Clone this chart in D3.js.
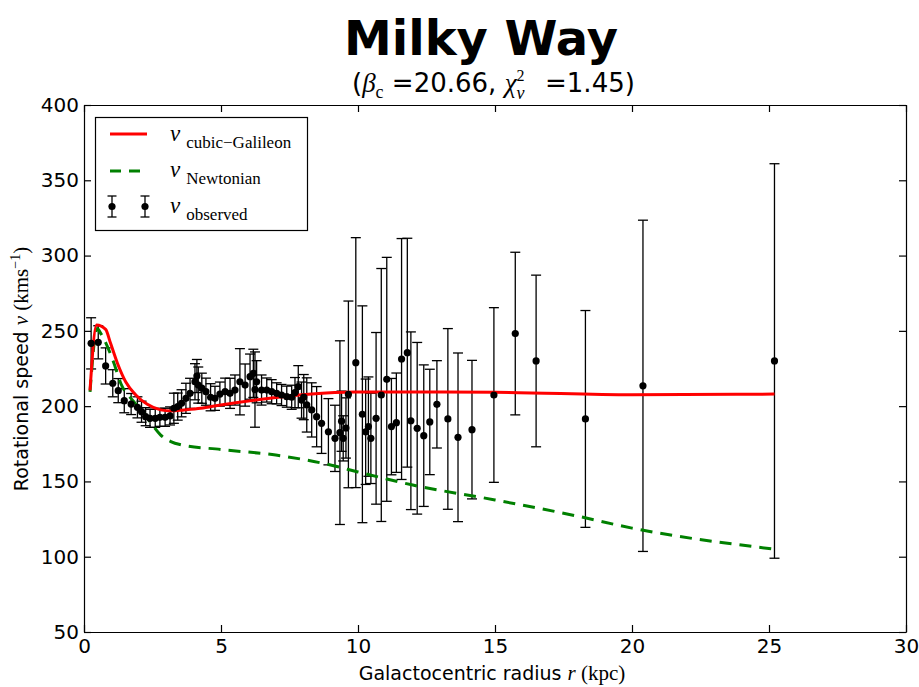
<!DOCTYPE html>
<html>
<head>
<meta charset="utf-8">
<script src="https://cdn.jsdelivr.net/npm/d3@7"></script>
<style>
body { margin: 0; background: #fff; }
text { font-family: "DejaVu Sans", sans-serif; white-space: pre; }
.math { font-family: "Liberation Serif", "DejaVu Serif", serif; }
</style>
</head>
<body>
<div id="chart"></div>
<script>
// observed rotation curve (r in kpc, v in km/s, symmetric error)
const obsR = [0.26, 0.52, 0.79, 1.05, 1.25, 1.47, 1.72, 1.95, 2.1, 2.25, 2.41, 2.6, 2.77, 2.96, 3.14,
  3.28, 3.42, 3.56, 3.72, 3.87, 4.05, 4.12, 4.17, 4.3, 4.45, 4.62, 4.78, 4.96, 5.15, 5.33, 5.51,
  5.69, 5.88, 6.06, 6.18, 6.24, 6.3, 6.48, 6.67, 6.85, 7.03, 7.21, 7.4, 7.58, 7.7, 7.82, 7.94,
  8.02, 8.13, 8.31, 8.49, 8.67, 8.92, 9.16, 9.34, 9.4, 9.46, 9.56, 9.65,
  9.92, 10.16, 10.28, 10.38, 10.47, 10.66, 10.85, 11.05, 11.22, 11.4, 11.59, 11.8, 11.93,
  12.16, 12.4, 12.62, 12.88, 13.28, 13.65, 14.16, 14.96, 15.74, 16.5, 18.3, 20.4, 25.2];
const obsV = [241.7, 242.4, 226.7, 215.2, 210.3, 203.6, 201.4, 199.2, 196.3, 193, 191.9, 191.9, 192.6, 192.6, 193.5,
  198.6, 199.7, 201.9, 205.2, 208.5, 216.2, 220, 214, 211.9, 209.6, 205.9, 205.2, 208, 209.6, 208.5, 210.7,
  216.2, 214, 219.6, 221.8, 211, 216.2, 210.7, 210.7, 209.6, 208.5, 207.4, 206.3, 205.9, 209, 212.9, 204,
  206, 200.8, 197.5, 193, 188.6, 183, 178.6, 182.4, 190, 178.6, 185.5, 207.8,
  228.9, 194.6, 183, 186.4, 178.6, 191.9, 207.4, 217.8, 186.4, 189, 231.3, 235.5, 190.3,
  185.3, 180.4, 189.5, 201.2, 191.5, 179.3, 184.4, 207.4, 248.2, 230, 191.5, 213.5, 230];
const obsErr = [17, 11, 12, 9, 8, 8, 7, 7, 7, 6, 6, 6, 6, 6, 6,
  10, 9, 9, 10, 10, 12, 11, 12, 10, 9, 9, 8, 8, 9, 10, 10,
  22, 14, 15, 16, 25, 14, 10, 8, 8, 7, 7, 7, 8, 10, 14, 12,
  15, 18, 18, 20, 20, 22, 22, 61, 20, 15, 20, 62,
  83, 72, 35, 33, 30, 57, 84, 81, 32, 33, 80, 76, 59,
  57, 47, 35, 29, 60, 56, 46, 58, 54, 57, 72, 110, 131];

// model curves
const galR = [0.22, 0.46, 0.79, 0.97, 1.22, 1.52, 1.89, 2.31, 2.8, 3.16, 3.65, 4.26, 4.99, 6.49, 8.19, 9.89, 15, 20, 25.2];
const galV = [210.5, 253.9, 251, 241.7, 228.5, 216.2, 207.4, 201.2, 197.5, 196.8, 197.5, 198.6, 200.8, 204.6, 207.9, 209.4, 209.2, 207.6, 208];
const newtR = [0.22, 0.48, 0.62, 1.09, 1.34, 1.77, 2.14, 2.45, 2.8, 3.17, 3.5, 5, 7, 9, 10, 12, 15, 18, 20, 25.2];
const newtV = [209.5, 251.5, 248, 228.7, 215.2, 204, 196.3, 188.6, 180.8, 176.5, 174.5, 171.2, 167.5, 160.9, 156.3, 147.6, 137.7, 127, 119, 105];

const xTicks = [0, 5, 10, 15, 20, 25, 30];
const yTicks = [50, 100, 150, 200, 250, 300, 350, 400];

const W = 919, H = 687;
const margin = {top: 105, right: 13, bottom: 55, left: 84};
const width = W - margin.left - margin.right;
const height = H - margin.top - margin.bottom;

const svg = d3.select("#chart").append("svg")
  .attr("width", W).attr("height", H);

const x = d3.scaleLinear().domain([0, 30]).range([0, width]);
const y = d3.scaleLinear().domain([50, 400]).range([height, 0]);

const g = svg.append("g").attr("transform", `translate(${margin.left},${margin.top})`);

// title
svg.append("text").attr("x", 481).attr("y", 55).attr("text-anchor", "middle")
  .style("font-size", "48px").style("font-weight", "bold").text("Milky Way");

// subtitle, laid out piece by piece
const subParts = [
  {t: "(", size: 26, dy: 0},
  {t: "β", size: 27, dy: 0, math: true, it: true},
  {t: "c", size: 18, dy: 6, math: true},
  {t: " =20.66, ", size: 26, dy: 0},
  {t: "χ", size: 27, dy: 0, math: true, it: true},
  {t: "v", size: 18, dy: 7, math: true, it: true, keep: true},
  {t: "2", size: 16, dy: -11, math: true},
  {t: "  =1.45)", size: 26, dy: 0}
];
let sx = 352;
const subY = 92;
let supX = 0;
subParts.forEach(p => {
  const t = svg.append("text").attr("x", p.t === "2" ? supX : sx).attr("y", subY + p.dy)
    .attr("class", p.math ? "math" : null)
    .style("font-size", p.size + "px").style("font-style", p.it ? "italic" : "normal").text(p.t);
  const w = t.node().getComputedTextLength();
  if (p.keep) { supX = sx; sx += w + 4; }
  else if (p.t !== "2") sx += w;
});

// clip for curves
g.append("clipPath").attr("id", "clip").append("rect").attr("width", width).attr("height", height);

// error bars
const eb = g.append("g").attr("stroke", "#000").attr("stroke-width", 1.3);
obsR.forEach((r, i) => {
  const cx = x(r), lo = y(obsV[i] - obsErr[i]), hi = y(obsV[i] + obsErr[i]);
  eb.append("line").attr("x1", cx).attr("x2", cx).attr("y1", lo).attr("y2", hi);
  eb.append("line").attr("x1", cx - 5).attr("x2", cx + 5).attr("y1", lo).attr("y2", lo);
  eb.append("line").attr("x1", cx - 5).attr("x2", cx + 5).attr("y1", hi).attr("y2", hi);
});

// curves
const line = d3.line().x(d => x(d[0])).y(d => y(d[1])).curve(d3.curveMonotoneX);
g.append("path").datum(newtR.map((r, i) => [r, newtV[i]]))
  .attr("d", line).attr("fill", "none").attr("stroke", "#008000")
  .attr("stroke-width", 3).attr("stroke-dasharray", "12,8").attr("clip-path", "url(#clip)");
g.append("path").datum(galR.map((r, i) => [r, galV[i]]))
  .attr("d", line).attr("fill", "none").attr("stroke", "#ff0000")
  .attr("stroke-width", 3).attr("clip-path", "url(#clip)");

// points
g.append("g").selectAll("circle").data(obsR).join("circle")
  .attr("cx", d => x(d)).attr("cy", (d, i) => y(obsV[i])).attr("r", 3.6).attr("fill", "#000");

// axes, ticks pointing inwards on all sides
g.append("g").attr("transform", `translate(0,${height})`)
  .call(d3.axisBottom(x).tickValues(xTicks).tickSizeInner(-7).tickSizeOuter(0).tickPadding(7));
g.append("g")
  .call(d3.axisLeft(y).tickValues(yTicks).tickSizeInner(-7).tickSizeOuter(0).tickPadding(5));
g.append("g").call(d3.axisTop(x).tickValues(xTicks).tickSizeInner(-7).tickSizeOuter(0).tickFormat(""));
g.append("g").attr("transform", `translate(${width},0)`)
  .call(d3.axisRight(y).tickValues(yTicks).tickSizeInner(-7).tickSizeOuter(0).tickFormat(""));
g.selectAll(".tick text").style("font-size", "20px").style("font-family", "'DejaVu Sans', sans-serif").attr("fill", "#000");
g.selectAll(".domain").attr("stroke", "#000").attr("stroke-width", 1.2);
g.selectAll(".tick line").attr("stroke", "#000").attr("stroke-width", 1.2);

// axis labels
const xl = svg.append("text").attr("x", 492).attr("y", 680).attr("text-anchor", "middle").style("font-size", "19px");
xl.append("tspan").text("Galactocentric radius ");
xl.append("tspan").attr("class", "math").style("font-style", "italic").style("font-size", "21px").text("r");
xl.append("tspan").attr("class", "math").style("font-size", "21px").text(" (kpc)");

const yl = svg.append("text").attr("transform", "translate(28,369) rotate(-90)")
  .attr("text-anchor", "middle").style("font-size", "19px");
yl.append("tspan").text("Rotational speed ");
yl.append("tspan").attr("class", "math").style("font-style", "italic").style("font-size", "21px").text("v");
yl.append("tspan").attr("class", "math").style("font-size", "21px").text(" (kms");
yl.append("tspan").attr("class", "math").attr("dy", -8).style("font-size", "14px").text("−1");
yl.append("tspan").attr("class", "math").attr("dy", 8).style("font-size", "21px").text(")");

// legend
const lg = svg.append("g");
lg.append("rect").attr("x", 95.5).attr("y", 117.5).attr("width", 212).attr("height", 113)
  .attr("fill", "#fff").attr("stroke", "#000").attr("stroke-width", 1.2);
lg.append("line").attr("x1", 110).attr("x2", 147).attr("y1", 134).attr("y2", 134)
  .attr("stroke", "#ff0000").attr("stroke-width", 3);
lg.append("line").attr("x1", 110).attr("x2", 147).attr("y1", 171).attr("y2", 171)
  .attr("stroke", "#008000").attr("stroke-width", 3).attr("stroke-dasharray", "11,8");
[112, 145].forEach(cx => {
  lg.append("line").attr("x1", cx).attr("x2", cx).attr("y1", 196).attr("y2", 217).attr("stroke", "#000").attr("stroke-width", 1.3);
  lg.append("line").attr("x1", cx - 4.5).attr("x2", cx + 4.5).attr("y1", 196).attr("y2", 196).attr("stroke", "#000").attr("stroke-width", 1.3);
  lg.append("line").attr("x1", cx - 4.5).attr("x2", cx + 4.5).attr("y1", 217).attr("y2", 217).attr("stroke", "#000").attr("stroke-width", 1.3);
  lg.append("circle").attr("cx", cx).attr("cy", 206.5).attr("r", 3.6).attr("fill", "#000");
});
const legendSubs = ["cubic−Galileon", "Newtonian", "observed"];
legendSubs.forEach((s, i) => {
  const t = lg.append("text").attr("class", "math").attr("x", 170).attr("y", 141 + i * 36).style("font-size", "23px");
  t.append("tspan").style("font-style", "italic").text("v");
  t.append("tspan").attr("dx", 6).attr("dy", 7).style("font-size", "17px").text(s);
});
</script>
</body>
</html>
